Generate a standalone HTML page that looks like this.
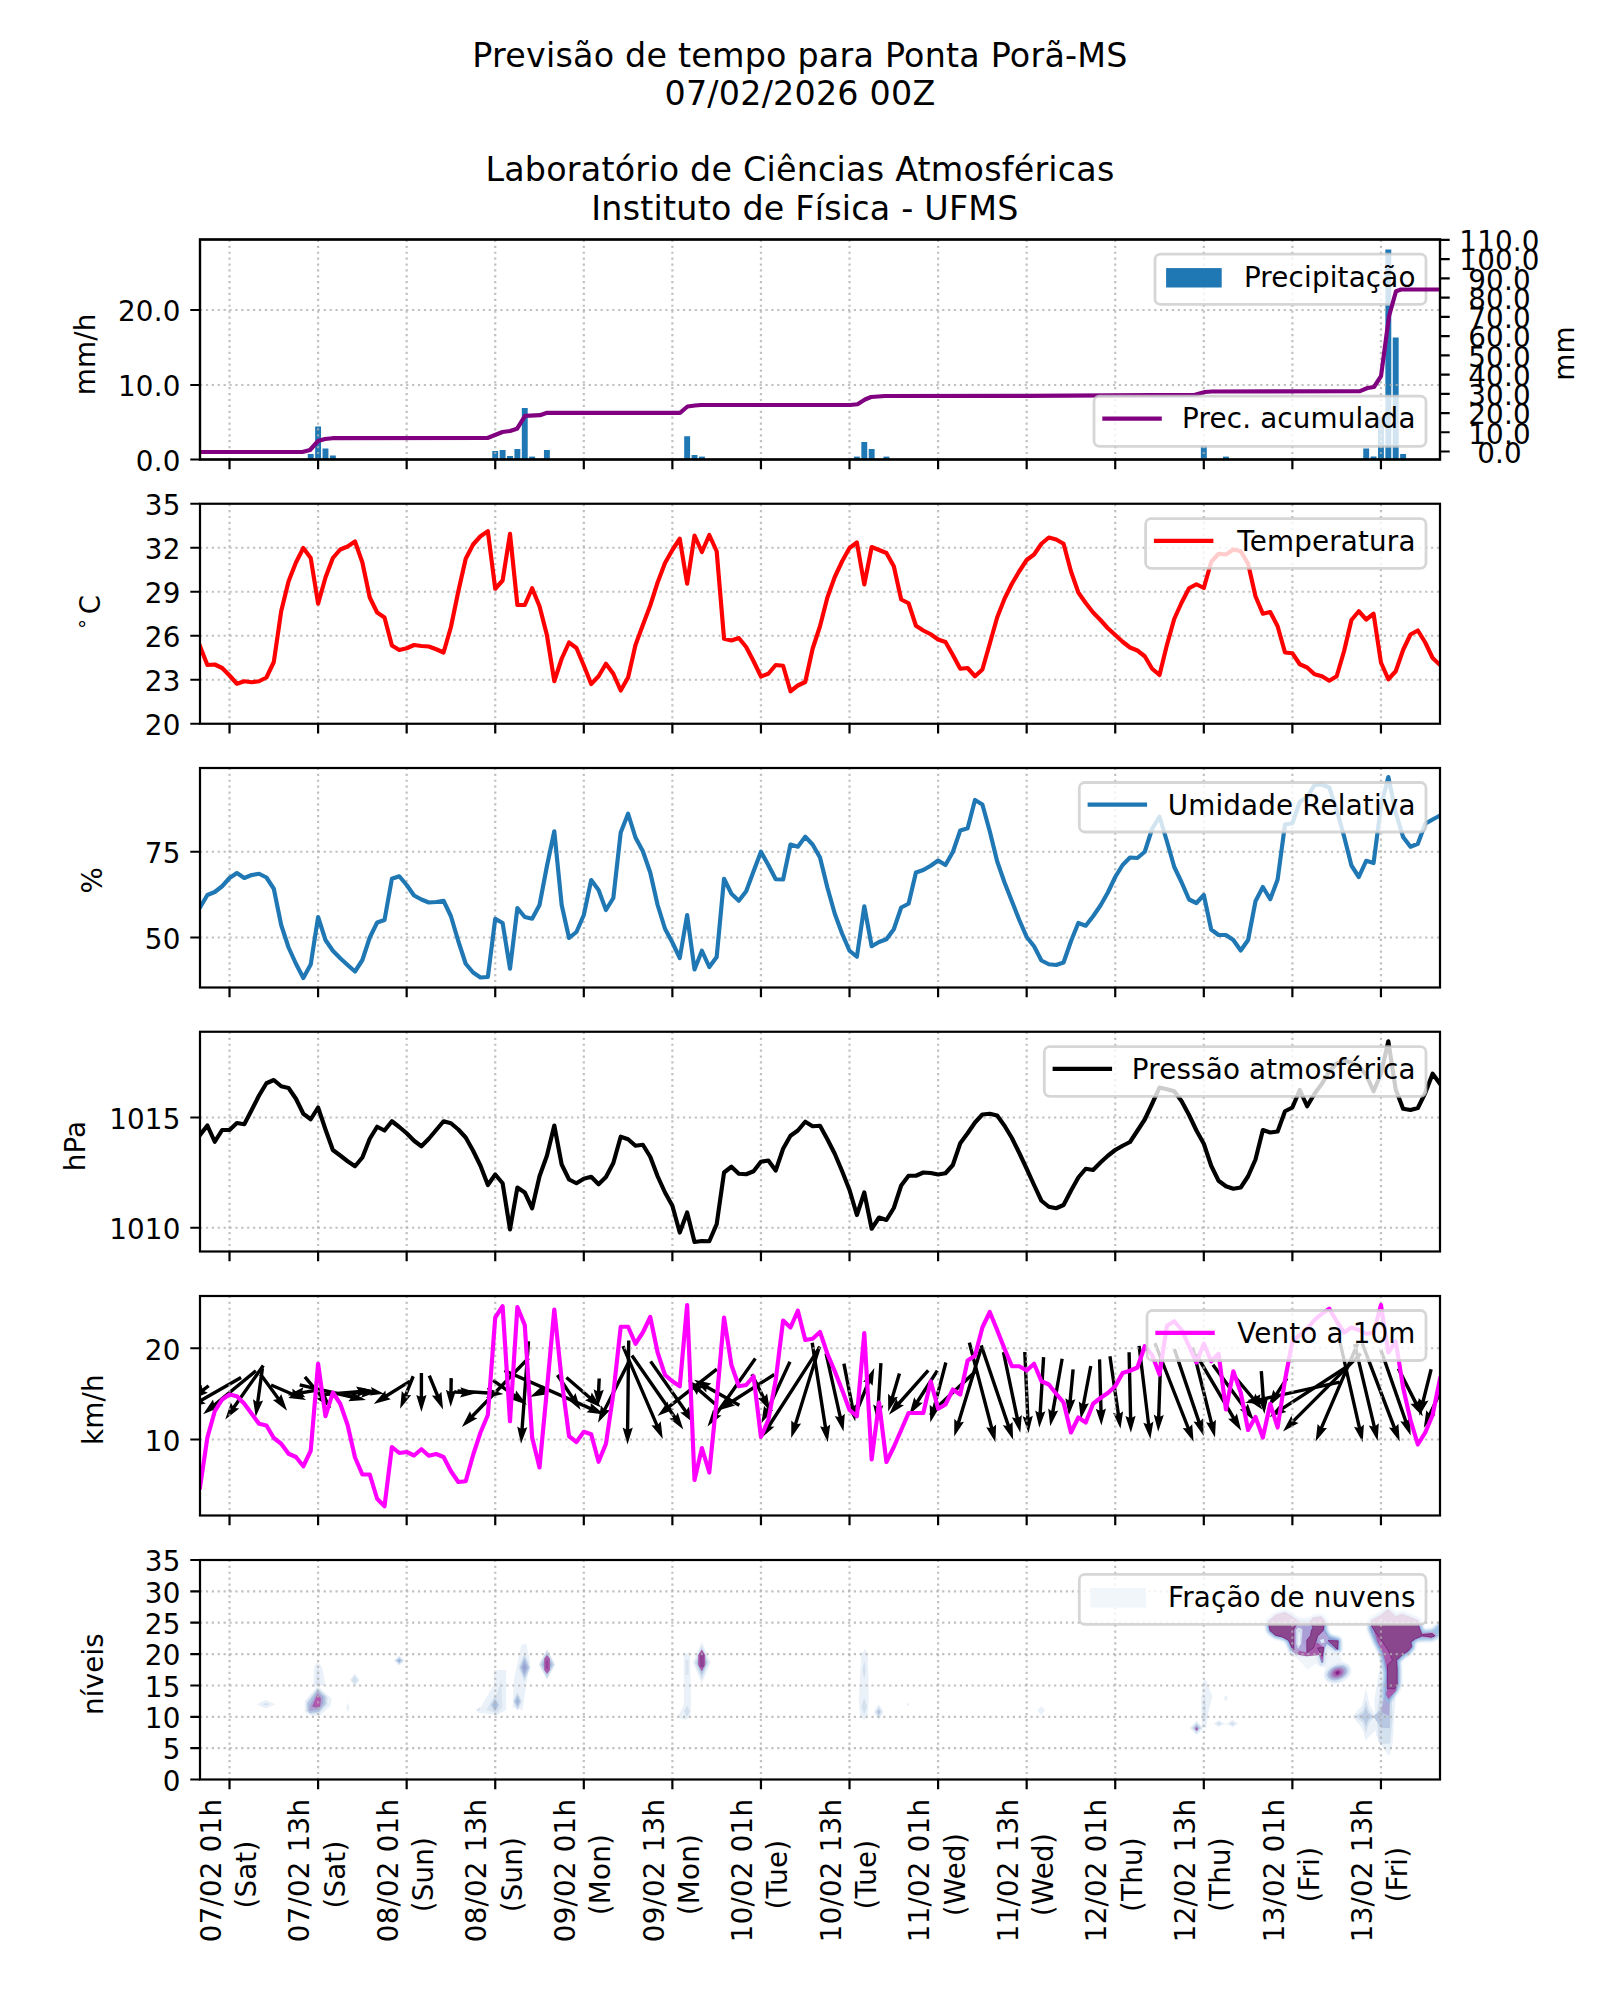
<!DOCTYPE html>
<html lang="pt"><head><meta charset="utf-8"><title>Previsão de tempo para Ponta Porã-MS</title>
<style>html,body{margin:0;padding:0;background:#fff}svg{display:block}</style></head>
<body>
<svg width="1600" height="2000" viewBox="0 0 1600 2000" font-family="'DejaVu Sans','Liberation Sans',sans-serif" font-size="27.78px" fill="#000" letter-spacing="0.17">
<defs>
<clipPath id="c0"><rect x="200.0" y="239.5" width="1240.0" height="220.0"/></clipPath>
<clipPath id="c1"><rect x="200.0" y="503.75" width="1240.0" height="220.0"/></clipPath>
<clipPath id="c2"><rect x="200.0" y="768.0" width="1240.0" height="219.5"/></clipPath>
<clipPath id="c3"><rect x="200.0" y="1031.75" width="1240.0" height="219.75"/></clipPath>
<clipPath id="c4"><rect x="200.0" y="1296.0" width="1240.0" height="219.5"/></clipPath>
<clipPath id="c5"><rect x="200.0" y="1560.0" width="1240.0" height="219.5"/></clipPath>
<filter id="b1" x="-50%" y="-50%" width="200%" height="200%"><feGaussianBlur stdDeviation="1.2"/></filter>
<filter id="b2" x="-50%" y="-50%" width="200%" height="200%"><feGaussianBlur stdDeviation="1.6"/></filter>
<filter id="b3" x="-50%" y="-50%" width="200%" height="200%"><feGaussianBlur stdDeviation="0.6"/></filter>
</defs>
<rect width="1600" height="2000" fill="#fff"/>
<text x="800" y="66.75" font-size="33.33px" text-anchor="middle" letter-spacing="0.22">Previsão de tempo para Ponta Porã-MS</text>
<text x="800" y="104.5" font-size="33.33px" text-anchor="middle" letter-spacing="0.22">07/02/2026 00Z</text>
<text x="800" y="181.25" font-size="33.33px" text-anchor="middle" letter-spacing="0.22">Laboratório de Ciências Atmosféricas</text>
<text x="805" y="219.5" font-size="33.33px" text-anchor="middle" letter-spacing="0.22">Instituto de Física - UFMS</text>
<g clip-path="url(#c0)" fill="#1f77b4">
<rect x="307.76" y="454.00" width="5.9" height="5.50"/>
<rect x="315.15" y="426.50" width="5.9" height="33.00"/>
<rect x="322.53" y="448.50" width="5.9" height="11.00"/>
<rect x="329.91" y="455.50" width="5.9" height="4.00"/>
<rect x="492.29" y="451.00" width="5.9" height="8.50"/>
<rect x="499.67" y="450.00" width="5.9" height="9.50"/>
<rect x="507.05" y="456.00" width="5.9" height="3.50"/>
<rect x="514.43" y="449.00" width="5.9" height="10.50"/>
<rect x="521.81" y="408.00" width="5.9" height="51.50"/>
<rect x="529.19" y="456.60" width="5.9" height="2.90"/>
<rect x="543.95" y="450.00" width="5.9" height="9.50"/>
<rect x="684.19" y="436.25" width="5.9" height="23.25"/>
<rect x="691.57" y="455.00" width="5.9" height="4.50"/>
<rect x="698.95" y="456.60" width="5.9" height="2.90"/>
<rect x="853.95" y="456.60" width="5.9" height="2.90"/>
<rect x="861.34" y="442.00" width="5.9" height="17.50"/>
<rect x="868.72" y="449.00" width="5.9" height="10.50"/>
<rect x="883.48" y="456.60" width="5.9" height="2.90"/>
<rect x="1200.86" y="446.00" width="5.9" height="13.50"/>
<rect x="1223.00" y="456.60" width="5.9" height="2.90"/>
<rect x="1363.24" y="448.50" width="5.9" height="11.00"/>
<rect x="1370.62" y="456.50" width="5.9" height="3.00"/>
<rect x="1378.00" y="417.00" width="5.9" height="42.50"/>
<rect x="1385.38" y="249.50" width="5.9" height="210.00"/>
<rect x="1392.76" y="337.50" width="5.9" height="122.00"/>
<rect x="1400.15" y="454.00" width="5.9" height="5.50"/>
</g>
<path d="M229.52 459.5V239.5M318.10 459.5V239.5M406.67 459.5V239.5M495.24 459.5V239.5M583.81 459.5V239.5M672.38 459.5V239.5M760.95 459.5V239.5M849.52 459.5V239.5M938.10 459.5V239.5M1026.67 459.5V239.5M1115.24 459.5V239.5M1203.81 459.5V239.5M1292.38 459.5V239.5M1380.95 459.5V239.5" stroke="#b0b0b0" stroke-opacity="0.78" stroke-width="2.2" stroke-dasharray="2.22 3.67" stroke-dashoffset="0.5" fill="none"/>
<path d="M200.0 385.0H1440.0M200.0 310.0H1440.0" stroke="#b0b0b0" stroke-opacity="0.78" stroke-width="2.2" stroke-dasharray="2.22 3.67" fill="none"/>
<rect x="200.0" y="239.5" width="1240.0" height="220.0" fill="none" stroke="#000" stroke-width="2.2"/>
<path d="M229.52 459.5v9.7M318.10 459.5v9.7M406.67 459.5v9.7M495.24 459.5v9.7M583.81 459.5v9.7M672.38 459.5v9.7M760.95 459.5v9.7M849.52 459.5v9.7M938.10 459.5v9.7M1026.67 459.5v9.7M1115.24 459.5v9.7M1203.81 459.5v9.7M1292.38 459.5v9.7M1380.95 459.5v9.7M200.0 459.5h-9.7M200.0 385.0h-9.7M200.0 310.0h-9.7M1440.0 451.5h9.7M1440.0 432.27h9.7M1440.0 413.04h9.7M1440.0 393.81h9.7M1440.0 374.58h9.7M1440.0 355.35h9.7M1440.0 336.12h9.7M1440.0 316.89h9.7M1440.0 297.65999999999997h9.7M1440.0 278.43h9.7M1440.0 259.2h9.7M1440.0 239.97h9.7" stroke="#000" stroke-width="2.2" fill="none"/>
<text x="180.5" y="470.7" text-anchor="end">0.0</text>
<text x="180.5" y="396.2" text-anchor="end">10.0</text>
<text x="180.5" y="321.2" text-anchor="end">20.0</text>
<text x="1499.5" y="462.7" text-anchor="middle">0.0</text>
<text x="1499.5" y="443.5" text-anchor="middle">10.0</text>
<text x="1499.5" y="424.2" text-anchor="middle">20.0</text>
<text x="1499.5" y="405.0" text-anchor="middle">30.0</text>
<text x="1499.5" y="385.8" text-anchor="middle">40.0</text>
<text x="1499.5" y="366.6" text-anchor="middle">50.0</text>
<text x="1499.5" y="347.3" text-anchor="middle">60.0</text>
<text x="1499.5" y="328.1" text-anchor="middle">70.0</text>
<text x="1499.5" y="308.9" text-anchor="middle">80.0</text>
<text x="1499.5" y="289.6" text-anchor="middle">90.0</text>
<text x="1499.5" y="270.4" text-anchor="middle">100.0</text>
<text x="1499.5" y="251.2" text-anchor="middle">110.0</text>
<text transform="translate(95.3 354.3) rotate(-90)" text-anchor="middle">mm/h</text>
<text transform="translate(1573.6 353.5) rotate(-90)" text-anchor="middle">mm</text>
<rect x="1155" y="254.2" width="271" height="50.19999999999999" rx="5.5" ry="5.5" fill="#fff" fill-opacity="0.8" stroke="#ccc" stroke-opacity="0.8" stroke-width="2.78"/>
<rect x="1166.1" y="268.1" width="55.6" height="19.4" fill="#1f77b4"/>
<text x="1415.6" y="286.5" text-anchor="end">Precipitação</text>
<polyline clip-path="url(#c0)" points="200.0,452.0 302.5,452.0 310.0,450.0 318.0,441.0 325.0,439.0 332.5,438.2 487.5,438.0 502.5,432.0 510.0,431.0 517.0,428.8 525.0,415.8 540.0,415.2 547.0,412.8 680.0,412.8 687.5,406.5 695.0,405.5 701.0,405.0 850.0,405.0 857.5,404.2 865.0,399.5 871.0,397.0 885.0,396.0 1027.0,395.8 1195.0,394.8 1205.0,392.0 1212.0,391.5 1360.0,391.2 1367.5,388.0 1374.0,387.0 1381.0,376.2 1389.0,316.2 1396.0,291.2 1401.0,289.5 1440.0,289.5" fill="none" stroke="#800080" stroke-width="4.17" stroke-linejoin="round"/>
<rect x="200.0" y="239.5" width="1240.0" height="220" fill="none" stroke="#000" stroke-width="2.2"/>
<rect x="1094" y="396.2" width="332" height="50.10000000000002" rx="5.5" ry="5.5" fill="#fff" fill-opacity="0.8" stroke="#ccc" stroke-opacity="0.8" stroke-width="2.78"/>
<path d="M1104.4 418.6H1159.7" stroke="#800080" stroke-width="4.17" stroke-linecap="square" fill="none"/>
<text x="1415.6" y="428.4" text-anchor="end">Prec. acumulada</text>
<path d="M229.52 723.75V503.75M318.10 723.75V503.75M406.67 723.75V503.75M495.24 723.75V503.75M583.81 723.75V503.75M672.38 723.75V503.75M760.95 723.75V503.75M849.52 723.75V503.75M938.10 723.75V503.75M1026.67 723.75V503.75M1115.24 723.75V503.75M1203.81 723.75V503.75M1292.38 723.75V503.75M1380.95 723.75V503.75" stroke="#b0b0b0" stroke-opacity="0.78" stroke-width="2.2" stroke-dasharray="2.22 3.67" stroke-dashoffset="0.5" fill="none"/>
<path d="M200.0 679.75H1440.0M200.0 635.75H1440.0M200.0 591.75H1440.0M200.0 547.75H1440.0" stroke="#b0b0b0" stroke-opacity="0.78" stroke-width="2.2" stroke-dasharray="2.22 3.67" fill="none"/>
<polyline clip-path="url(#c1)" points="200.00,646.25 207.38,665.00 214.76,664.50 222.14,668.00 229.52,675.50 236.90,683.75 244.29,681.25 251.67,682.25 259.05,681.25 266.43,677.50 273.81,662.00 281.19,611.25 288.57,581.25 295.95,562.50 303.33,548.00 310.71,558.00 318.10,603.75 325.48,577.50 332.86,558.00 340.24,549.50 347.62,546.50 355.00,541.50 362.38,562.50 369.76,597.50 377.14,612.50 384.52,617.50 391.90,645.50 399.29,650.00 406.67,648.25 414.05,645.00 421.43,646.00 428.81,646.50 436.19,649.25 443.57,652.50 450.95,627.00 458.33,591.25 465.71,558.75 473.10,544.50 480.48,536.25 487.86,531.25 495.24,588.75 502.62,580.50 510.00,533.75 517.38,605.00 524.76,605.00 532.14,588.25 539.52,606.25 546.90,635.00 554.29,681.25 561.67,658.75 569.05,642.50 576.43,648.00 583.81,665.50 591.19,684.00 598.57,676.25 605.95,663.75 613.33,673.75 620.71,690.50 628.10,677.50 635.48,645.00 642.86,625.00 650.24,605.50 657.62,582.50 665.00,563.00 672.38,550.00 679.76,538.75 687.14,583.75 694.52,535.50 701.90,552.00 709.29,535.00 716.67,551.25 724.05,638.75 731.43,640.50 738.81,638.00 746.19,647.00 753.57,661.25 760.95,676.50 768.33,673.75 775.71,665.00 783.10,665.75 790.48,691.25 797.86,685.50 805.24,682.00 812.62,648.75 820.00,626.25 827.38,597.50 834.76,577.00 842.14,561.25 849.52,548.00 856.90,542.50 864.29,584.50 871.67,547.00 879.05,550.00 886.43,553.00 893.81,566.25 901.19,599.50 908.57,603.25 915.95,625.75 923.33,630.50 930.71,634.25 938.10,639.50 945.48,642.00 952.86,655.00 960.24,668.75 967.62,668.00 975.00,676.25 982.38,669.50 989.76,643.75 997.14,617.50 1004.52,598.75 1011.90,583.75 1019.29,571.25 1026.67,560.00 1034.05,554.50 1041.43,543.75 1048.81,537.50 1056.19,539.50 1063.57,543.75 1070.95,571.25 1078.33,592.50 1085.71,603.00 1093.10,612.50 1100.48,620.00 1107.86,628.25 1115.24,635.00 1122.62,641.75 1130.00,647.50 1137.38,650.50 1144.76,656.25 1152.14,668.75 1159.52,675.00 1166.90,645.00 1174.29,618.75 1181.67,602.50 1189.05,588.25 1196.43,584.25 1203.81,588.00 1211.19,562.00 1218.57,553.75 1225.95,554.50 1233.33,549.50 1240.71,551.25 1248.10,563.75 1255.48,596.25 1262.86,613.75 1270.24,612.00 1277.62,626.25 1285.00,652.50 1292.38,653.25 1299.76,664.25 1307.14,667.50 1314.52,674.25 1321.90,676.25 1329.29,680.75 1336.67,676.25 1344.05,651.25 1351.43,620.00 1358.81,611.25 1366.19,619.50 1373.57,613.75 1380.95,662.50 1388.33,679.25 1395.71,671.25 1403.10,650.00 1410.48,634.50 1417.86,630.50 1425.24,642.50 1432.62,658.00 1440.00,665.00" fill="none" stroke="#ff0000" stroke-width="4.17" stroke-linejoin="round" stroke-linecap="square"/>
<rect x="200.0" y="503.75" width="1240.0" height="220.0" fill="none" stroke="#000" stroke-width="2.2"/>
<path d="M229.52 723.75v9.7M318.10 723.75v9.7M406.67 723.75v9.7M495.24 723.75v9.7M583.81 723.75v9.7M672.38 723.75v9.7M760.95 723.75v9.7M849.52 723.75v9.7M938.10 723.75v9.7M1026.67 723.75v9.7M1115.24 723.75v9.7M1203.81 723.75v9.7M1292.38 723.75v9.7M1380.95 723.75v9.7M200.0 723.75h-9.7M200.0 679.75h-9.7M200.0 635.75h-9.7M200.0 591.75h-9.7M200.0 547.75h-9.7M200.0 503.75h-9.7" stroke="#000" stroke-width="2.2" fill="none"/>
<text x="180.5" y="735.0" text-anchor="end">20</text>
<text x="180.5" y="691.0" text-anchor="end">23</text>
<text x="180.5" y="647.0" text-anchor="end">26</text>
<text x="180.5" y="603.0" text-anchor="end">29</text>
<text x="180.5" y="559.0" text-anchor="end">32</text>
<text x="180.5" y="515.0" text-anchor="end">35</text>
<text transform="translate(99.9 614.2) rotate(-90)">C</text>
<text transform="translate(94.3 628.7) rotate(-90)" font-size="19.4px">°</text>
<rect x="1145.6" y="518.7" width="280.4000000000001" height="49.59999999999991" rx="5.5" ry="5.5" fill="#fff" fill-opacity="0.8" stroke="#ccc" stroke-opacity="0.8" stroke-width="2.78"/>
<path d="M1156.0 540.9H1211.3" stroke="#ff0000" stroke-width="4.17" stroke-linecap="square" fill="none"/>
<text x="1415.6" y="550.7" text-anchor="end">Temperatura</text>
<path d="M229.52 987.5V768.0M318.10 987.5V768.0M406.67 987.5V768.0M495.24 987.5V768.0M583.81 987.5V768.0M672.38 987.5V768.0M760.95 987.5V768.0M849.52 987.5V768.0M938.10 987.5V768.0M1026.67 987.5V768.0M1115.24 987.5V768.0M1203.81 987.5V768.0M1292.38 987.5V768.0M1380.95 987.5V768.0" stroke="#b0b0b0" stroke-opacity="0.78" stroke-width="2.2" stroke-dasharray="2.22 3.67" stroke-dashoffset="0.5" fill="none"/>
<path d="M200.0 937.5H1440.0M200.0 851.75H1440.0" stroke="#b0b0b0" stroke-opacity="0.78" stroke-width="2.2" stroke-dasharray="2.22 3.67" fill="none"/>
<polyline clip-path="url(#c2)" points="200.00,907.50 207.38,895.00 214.76,892.00 222.14,886.25 229.52,878.00 236.90,873.00 244.29,878.00 251.67,875.00 259.05,873.75 266.43,877.50 273.81,888.75 281.19,925.00 288.57,947.50 295.95,963.75 303.33,978.00 310.71,964.50 318.10,917.00 325.48,940.00 332.86,950.75 340.24,958.25 347.62,965.00 355.00,971.50 362.38,960.00 369.76,937.50 377.14,922.50 384.52,920.00 391.90,878.75 399.29,876.25 406.67,885.00 414.05,895.50 421.43,899.50 428.81,902.50 436.19,902.00 443.57,900.75 450.95,916.25 458.33,941.25 465.71,963.75 473.10,972.50 480.48,977.50 487.86,977.00 495.24,918.75 502.62,923.00 510.00,968.75 517.38,908.00 524.76,917.00 532.14,918.75 539.52,905.00 546.90,866.25 554.29,831.25 561.67,905.00 569.05,938.00 576.43,932.00 583.81,915.00 591.19,880.00 598.57,890.00 605.95,910.00 613.33,898.00 620.71,832.50 628.10,813.75 635.48,837.50 642.86,851.25 650.24,872.50 657.62,905.00 665.00,928.75 672.38,942.50 679.76,958.00 687.14,915.00 694.52,969.50 701.90,950.75 709.29,967.00 716.67,957.00 724.05,878.75 731.43,893.75 738.81,900.75 746.19,891.25 753.57,871.25 760.95,851.75 768.33,865.00 775.71,879.25 783.10,879.50 790.48,844.50 797.86,846.75 805.24,836.75 812.62,844.50 820.00,857.50 827.38,887.50 834.76,913.75 842.14,933.75 849.52,950.75 856.90,956.75 864.29,906.25 871.67,946.25 879.05,942.00 886.43,939.25 893.81,929.25 901.19,907.50 908.57,903.75 915.95,872.50 923.33,870.00 930.71,865.75 938.10,860.50 945.48,865.00 952.86,852.00 960.24,830.50 967.62,828.25 975.00,800.00 982.38,804.50 989.76,831.25 997.14,861.25 1004.52,882.50 1011.90,901.25 1019.29,920.00 1026.67,937.00 1034.05,946.25 1041.43,960.50 1048.81,964.25 1056.19,965.00 1063.57,962.50 1070.95,941.25 1078.33,923.00 1085.71,925.75 1093.10,916.25 1100.48,905.50 1107.86,892.50 1115.24,877.00 1122.62,865.00 1130.00,857.50 1137.38,858.00 1144.76,851.75 1152.14,828.75 1159.52,816.75 1166.90,841.25 1174.29,867.00 1181.67,882.50 1189.05,899.50 1196.43,903.00 1203.81,895.00 1211.19,929.50 1218.57,935.00 1225.95,935.00 1233.33,940.00 1240.71,950.50 1248.10,940.00 1255.48,901.25 1262.86,887.00 1270.24,899.25 1277.62,879.50 1285.00,824.50 1292.38,823.25 1299.76,802.00 1307.14,797.00 1314.52,785.00 1321.90,784.50 1329.29,787.50 1336.67,810.00 1344.05,836.25 1351.43,865.50 1358.81,877.00 1366.19,860.75 1373.57,863.00 1380.95,806.25 1388.33,777.00 1395.71,812.50 1403.10,837.00 1410.48,846.75 1417.86,843.75 1425.24,823.75 1432.62,819.50 1440.00,815.50" fill="none" stroke="#1f77b4" stroke-width="4.17" stroke-linejoin="round" stroke-linecap="square"/>
<rect x="200.0" y="768.0" width="1240.0" height="219.5" fill="none" stroke="#000" stroke-width="2.2"/>
<path d="M229.52 987.5v9.7M318.10 987.5v9.7M406.67 987.5v9.7M495.24 987.5v9.7M583.81 987.5v9.7M672.38 987.5v9.7M760.95 987.5v9.7M849.52 987.5v9.7M938.10 987.5v9.7M1026.67 987.5v9.7M1115.24 987.5v9.7M1203.81 987.5v9.7M1292.38 987.5v9.7M1380.95 987.5v9.7M200.0 937.5h-9.7M200.0 851.75h-9.7" stroke="#000" stroke-width="2.2" fill="none"/>
<text x="180.5" y="948.7" text-anchor="end">50</text>
<text x="180.5" y="863.0" text-anchor="end">75</text>
<text transform="translate(101.9 880.2) rotate(-90)" text-anchor="middle">%</text>
<rect x="1079.3" y="782.5" width="346.70000000000005" height="49.5" rx="5.5" ry="5.5" fill="#fff" fill-opacity="0.8" stroke="#ccc" stroke-opacity="0.8" stroke-width="2.78"/>
<path d="M1089.7 804.6H1145.0" stroke="#1f77b4" stroke-width="4.17" stroke-linecap="square" fill="none"/>
<text x="1415.6" y="814.5" text-anchor="end">Umidade Relativa</text>
<path d="M229.52 1251.5V1031.75M318.10 1251.5V1031.75M406.67 1251.5V1031.75M495.24 1251.5V1031.75M583.81 1251.5V1031.75M672.38 1251.5V1031.75M760.95 1251.5V1031.75M849.52 1251.5V1031.75M938.10 1251.5V1031.75M1026.67 1251.5V1031.75M1115.24 1251.5V1031.75M1203.81 1251.5V1031.75M1292.38 1251.5V1031.75M1380.95 1251.5V1031.75" stroke="#b0b0b0" stroke-opacity="0.78" stroke-width="2.2" stroke-dasharray="2.22 3.67" stroke-dashoffset="0.5" fill="none"/>
<path d="M200.0 1227.75H1440.0M200.0 1117.5H1440.0" stroke="#b0b0b0" stroke-opacity="0.78" stroke-width="2.2" stroke-dasharray="2.22 3.67" fill="none"/>
<polyline clip-path="url(#c3)" points="200.00,1135.00 207.38,1125.50 214.76,1141.75 222.14,1130.00 229.52,1130.00 236.90,1123.00 244.29,1124.25 251.67,1110.00 259.05,1095.50 266.43,1083.25 273.81,1080.00 281.19,1086.25 288.57,1088.00 295.95,1098.75 303.33,1113.75 310.71,1119.25 318.10,1107.50 325.48,1129.50 332.86,1150.00 340.24,1155.50 347.62,1161.25 355.00,1166.25 362.38,1157.50 369.76,1138.75 377.14,1126.75 384.52,1130.50 391.90,1121.25 399.29,1127.00 406.67,1133.25 414.05,1140.75 421.43,1146.25 428.81,1138.75 436.19,1130.00 443.57,1121.25 450.95,1123.25 458.33,1129.50 465.71,1137.50 473.10,1150.75 480.48,1165.75 487.86,1185.00 495.24,1174.50 502.62,1183.25 510.00,1229.50 517.38,1187.50 524.76,1192.50 532.14,1208.25 539.52,1176.25 546.90,1155.75 554.29,1125.50 561.67,1164.50 569.05,1179.50 576.43,1183.25 583.81,1178.75 591.19,1176.75 598.57,1184.25 605.95,1177.00 613.33,1163.00 620.71,1136.75 628.10,1139.25 635.48,1145.75 642.86,1144.75 650.24,1156.75 657.62,1176.25 665.00,1192.50 672.38,1205.75 679.76,1232.50 687.14,1212.50 694.52,1242.00 701.90,1241.00 709.29,1241.25 716.67,1224.25 724.05,1172.50 731.43,1166.75 738.81,1173.75 746.19,1174.25 753.57,1171.25 760.95,1161.75 768.33,1160.50 775.71,1170.50 783.10,1148.75 790.48,1135.75 797.86,1130.50 805.24,1121.75 812.62,1126.25 820.00,1125.75 827.38,1139.25 834.76,1153.75 842.14,1171.25 849.52,1190.00 856.90,1215.00 864.29,1192.50 871.67,1228.75 879.05,1217.50 886.43,1220.00 893.81,1208.00 901.19,1185.50 908.57,1175.75 915.95,1175.75 923.33,1172.50 930.71,1173.00 938.10,1174.50 945.48,1173.25 952.86,1165.00 960.24,1143.25 967.62,1133.25 975.00,1122.50 982.38,1114.50 989.76,1113.75 997.14,1115.50 1004.52,1125.75 1011.90,1138.00 1019.29,1153.00 1026.67,1168.75 1034.05,1185.00 1041.43,1200.75 1048.81,1206.75 1056.19,1208.25 1063.57,1205.00 1070.95,1190.75 1078.33,1177.50 1085.71,1168.75 1093.10,1170.00 1100.48,1162.50 1107.86,1155.75 1115.24,1150.00 1122.62,1145.75 1130.00,1142.00 1137.38,1130.75 1144.76,1119.50 1152.14,1103.75 1159.52,1087.50 1166.90,1089.25 1174.29,1091.25 1181.67,1101.25 1189.05,1115.00 1196.43,1130.50 1203.81,1143.75 1211.19,1165.75 1218.57,1180.75 1225.95,1186.25 1233.33,1188.75 1240.71,1187.50 1248.10,1176.25 1255.48,1159.50 1262.86,1130.00 1270.24,1132.50 1277.62,1131.50 1285.00,1111.25 1292.38,1107.50 1299.76,1090.00 1307.14,1106.25 1314.52,1093.75 1321.90,1083.75 1329.29,1071.25 1336.67,1063.75 1344.05,1060.75 1351.43,1062.50 1358.81,1066.25 1366.19,1075.00 1373.57,1091.25 1380.95,1073.75 1388.33,1041.25 1395.71,1089.50 1403.10,1108.75 1410.48,1110.00 1417.86,1108.00 1425.24,1093.00 1432.62,1073.75 1440.00,1083.75" fill="none" stroke="#000000" stroke-width="4.17" stroke-linejoin="round" stroke-linecap="square"/>
<rect x="200.0" y="1031.75" width="1240.0" height="219.75" fill="none" stroke="#000" stroke-width="2.2"/>
<path d="M229.52 1251.5v9.7M318.10 1251.5v9.7M406.67 1251.5v9.7M495.24 1251.5v9.7M583.81 1251.5v9.7M672.38 1251.5v9.7M760.95 1251.5v9.7M849.52 1251.5v9.7M938.10 1251.5v9.7M1026.67 1251.5v9.7M1115.24 1251.5v9.7M1203.81 1251.5v9.7M1292.38 1251.5v9.7M1380.95 1251.5v9.7M200.0 1227.75h-9.7M200.0 1117.5h-9.7" stroke="#000" stroke-width="2.2" fill="none"/>
<text x="180.5" y="1239.0" text-anchor="end">1010</text>
<text x="180.5" y="1128.7" text-anchor="end">1015</text>
<text transform="translate(85.2 1146.0) rotate(-90)" text-anchor="middle">hPa</text>
<rect x="1044.3" y="1046.7" width="381.70000000000005" height="49.59999999999991" rx="5.5" ry="5.5" fill="#fff" fill-opacity="0.8" stroke="#ccc" stroke-opacity="0.8" stroke-width="2.78"/>
<path d="M1054.7 1068.9H1110.0" stroke="#000000" stroke-width="4.17" stroke-linecap="square" fill="none"/>
<text x="1415.6" y="1078.7" text-anchor="end">Pressão atmosférica</text>
<g clip-path="url(#c4)" fill="#000">
<polygon points="207.6,1384.4 202.3,1388.5 201.6,1384.8 191.3,1399.3 207.9,1392.8 204.4,1391.2 209.7,1387.1"/>
<polygon points="240.2,1376.0 200.9,1398.4 200.7,1394.6 188.5,1407.5 205.8,1403.5 202.6,1401.4 241.9,1379.0"/>
<polygon points="254.8,1369.4 213.9,1403.2 213.0,1399.5 203.1,1414.3 219.5,1407.4 216.0,1405.8 257.0,1372.1"/>
<polygon points="261.9,1364.6 232.7,1406.0 230.9,1402.6 225.3,1419.5 239.2,1408.5 235.5,1407.9 264.7,1366.5"/>
<polygon points="260.7,1368.0 256.1,1401.4 253.0,1399.2 255.7,1416.8 263.1,1400.6 259.5,1401.8 264.1,1368.5"/>
<polygon points="259.1,1375.3 276.7,1399.3 272.9,1400.0 287.1,1410.7 281.2,1393.9 279.4,1397.3 261.9,1373.3"/>
<polygon points="270.4,1386.6 291.3,1395.5 288.4,1398.0 306.1,1399.9 292.4,1388.6 292.6,1392.4 271.7,1383.5"/>
<polygon points="318.8,1388.0 302.3,1390.9 303.4,1387.3 287.6,1395.3 305.2,1397.3 302.9,1394.3 319.4,1391.4"/>
<polygon points="303.6,1377.9 320.1,1397.6 316.4,1398.5 331.3,1408.2 324.3,1391.9 322.7,1395.4 306.2,1375.7"/>
<polygon points="299.3,1386.5 350.7,1398.4 348.3,1401.3 366.0,1400.1 350.6,1391.4 351.5,1395.1 300.1,1383.2"/>
<polygon points="321.9,1396.5 358.4,1393.3 357.0,1396.8 373.5,1390.2 356.1,1386.6 358.1,1389.9 321.6,1393.1"/>
<polygon points="347.0,1395.0 362.7,1394.2 361.1,1397.7 377.9,1391.7 360.6,1387.5 362.5,1390.8 346.8,1391.6"/>
<polygon points="370.0,1392.7 371.4,1392.9 369.5,1395.4 384.0,1393.7 371.0,1387.1 371.9,1390.1 370.5,1389.9"/>
<polygon points="409.2,1379.7 385.7,1394.3 385.4,1390.6 373.7,1403.9 390.8,1399.2 387.5,1397.2 411.0,1382.5"/>
<polygon points="411.6,1375.6 404.3,1393.9 401.8,1391.1 400.1,1408.7 411.2,1394.9 407.4,1395.2 414.8,1376.9"/>
<polygon points="419.7,1373.1 419.7,1396.6 416.3,1394.9 421.4,1411.9 426.5,1394.9 423.1,1396.6 423.1,1373.1"/>
<polygon points="427.7,1376.3 435.7,1395.8 431.9,1395.5 443.1,1409.4 441.4,1391.7 438.9,1394.5 430.9,1375.0"/>
<polygon points="449.5,1378.1 449.3,1391.5 445.9,1389.8 450.7,1406.9 456.1,1390.0 452.7,1391.6 452.9,1378.2"/>
<polygon points="454.2,1393.8 461.9,1394.1 460.0,1397.4 477.2,1392.9 460.4,1387.2 462.0,1390.7 454.3,1390.4"/>
<polygon points="457.4,1392.6 488.0,1394.7 486.1,1398.0 503.4,1394.1 486.8,1387.8 488.3,1391.3 457.7,1389.2"/>
<polygon points="527.4,1356.8 471.3,1414.8 470.0,1411.3 461.9,1427.0 477.4,1418.3 473.7,1417.2 529.8,1359.2"/>
<polygon points="492.1,1381.7 513.5,1397.1 510.1,1398.9 526.9,1404.7 516.1,1390.6 515.5,1394.3 494.1,1379.0"/>
<polygon points="526.8,1341.1 520.4,1428.4 517.2,1426.4 521.0,1443.8 527.3,1427.2 523.8,1428.6 530.2,1341.4"/>
<polygon points="548.3,1386.5 543.1,1388.9 543.2,1385.1 530.0,1397.0 547.6,1394.3 544.6,1392.0 549.7,1389.5"/>
<polygon points="503.7,1372.1 589.5,1409.9 586.5,1412.3 604.2,1414.5 590.7,1403.0 590.8,1406.8 505.1,1369.0"/>
<polygon points="556.0,1375.9 570.8,1398.2 567.0,1398.7 580.6,1410.0 575.5,1393.0 573.6,1396.3 558.9,1374.1"/>
<polygon points="565.3,1378.8 588.5,1398.8 585.0,1400.3 601.2,1407.5 591.7,1392.6 590.7,1396.2 567.5,1376.2"/>
<polygon points="597.5,1378.4 596.9,1391.1 593.6,1389.3 598.0,1406.5 603.8,1389.7 600.3,1391.3 600.9,1378.6"/>
<polygon points="627.1,1361.4 603.4,1408.4 601.1,1405.4 598.0,1422.8 610.2,1410.0 606.4,1410.0 630.2,1362.9"/>
<polygon points="627.0,1340.5 625.9,1429.2 622.6,1427.4 627.5,1444.5 632.8,1427.6 629.3,1429.2 630.4,1340.5"/>
<polygon points="621.4,1346.8 655.2,1425.5 651.4,1425.3 662.8,1438.9 660.7,1421.3 658.3,1424.2 624.5,1345.4"/>
<polygon points="630.5,1356.5 673.2,1417.9 669.4,1418.4 683.3,1429.5 677.8,1412.6 676.0,1415.9 633.3,1354.6"/>
<polygon points="649.2,1362.3 684.0,1412.1 680.2,1412.6 694.2,1423.6 688.6,1406.8 686.8,1410.1 652.0,1360.4"/>
<polygon points="715.8,1367.7 668.4,1405.1 667.7,1401.4 657.5,1415.9 674.0,1409.4 670.5,1407.8 717.9,1370.4"/>
<polygon points="717.4,1403.7 700.2,1388.8 703.7,1387.3 687.6,1380.0 697.0,1395.0 698.0,1391.4 715.1,1406.2"/>
<polygon points="740.2,1403.7 708.2,1385.8 711.3,1383.6 694.0,1379.8 706.3,1392.5 706.5,1388.7 738.5,1406.7"/>
<polygon points="754.0,1357.6 714.9,1412.9 713.1,1409.6 707.5,1426.4 721.5,1415.5 717.7,1414.9 756.7,1359.6"/>
<polygon points="773.4,1373.1 730.0,1400.8 729.6,1397.0 718.1,1410.5 735.1,1405.6 731.9,1403.7 775.2,1375.9"/>
<polygon points="750.4,1374.9 761.7,1397.9 757.9,1397.9 770.0,1410.9 767.1,1393.4 764.8,1396.4 753.4,1373.4"/>
<polygon points="788.4,1361.0 766.3,1408.7 764.0,1405.7 761.4,1423.2 773.2,1410.0 769.4,1410.1 791.5,1362.5"/>
<polygon points="818.6,1345.8 767.8,1424.5 765.9,1421.3 761.0,1438.3 774.4,1426.8 770.7,1426.4 821.4,1347.6"/>
<polygon points="817.7,1346.4 794.1,1423.0 791.3,1420.4 791.2,1438.1 801.1,1423.4 797.3,1424.0 820.9,1347.4"/>
<polygon points="810.5,1343.1 823.7,1427.3 820.1,1426.2 827.8,1442.2 830.2,1424.6 827.1,1426.8 813.9,1342.5"/>
<polygon points="824.4,1353.8 838.5,1417.0 834.8,1416.1 843.5,1431.5 844.8,1413.8 841.8,1416.2 827.7,1353.1"/>
<polygon points="842.2,1363.9 850.6,1406.8 846.9,1405.7 855.2,1421.5 856.9,1403.8 853.9,1406.1 845.6,1363.2"/>
<polygon points="855.9,1417.5 870.1,1382.9 872.6,1385.8 874.3,1368.1 863.1,1381.9 866.9,1381.6 852.7,1416.2"/>
<polygon points="879.2,1363.0 876.5,1406.5 873.2,1404.6 877.2,1421.9 883.4,1405.2 879.9,1406.7 882.6,1363.2"/>
<polygon points="897.8,1373.0 890.9,1396.4 888.1,1393.8 888.2,1411.6 897.9,1396.7 894.1,1397.4 901.1,1373.9"/>
<polygon points="927.0,1369.2 897.8,1402.1 896.4,1398.6 888.9,1414.7 904.0,1405.3 900.3,1404.4 929.5,1371.5"/>
<polygon points="935.9,1369.7 916.1,1400.6 914.2,1397.3 909.3,1414.4 922.8,1402.8 919.0,1402.4 938.8,1371.5"/>
<polygon points="944.2,1362.1 932.5,1407.3 929.7,1404.8 930.3,1422.5 939.5,1407.3 935.8,1408.1 947.5,1362.9"/>
<polygon points="975.8,1368.8 938.8,1403.3 937.7,1399.7 928.7,1415.0 944.6,1407.1 941.1,1405.8 978.2,1371.2"/>
<polygon points="979.4,1348.0 957.0,1421.4 954.3,1418.7 954.2,1436.5 964.0,1421.7 960.3,1422.4 982.7,1349.0"/>
<polygon points="967.7,1343.1 989.9,1427.9 986.2,1427.2 995.4,1442.3 996.1,1424.6 993.2,1427.1 971.0,1342.3"/>
<polygon points="979.6,1345.9 1006.6,1425.7 1002.8,1425.2 1013.1,1439.7 1012.5,1421.9 1009.8,1424.6 982.8,1344.8"/>
<polygon points="1001.8,1352.5 1015.5,1418.2 1011.9,1417.2 1020.3,1432.8 1021.8,1415.1 1018.9,1417.5 1005.1,1351.8"/>
<polygon points="1023.1,1352.1 1026.1,1417.8 1022.6,1416.2 1028.5,1433.0 1032.8,1415.7 1029.5,1417.6 1026.5,1352.0"/>
<polygon points="1041.9,1357.1 1038.5,1412.5 1035.2,1410.6 1039.3,1427.8 1045.4,1411.2 1041.9,1412.7 1045.3,1357.3"/>
<polygon points="1060.5,1358.5 1051.2,1410.9 1048.2,1408.6 1050.2,1426.2 1058.2,1410.4 1054.6,1411.5 1063.8,1359.1"/>
<polygon points="1071.4,1369.2 1068.5,1400.3 1065.3,1398.2 1068.8,1415.6 1075.4,1399.2 1071.9,1400.6 1074.8,1369.5"/>
<polygon points="1089.1,1365.7 1081.9,1403.7 1078.8,1401.4 1080.7,1419.0 1088.9,1403.3 1085.2,1404.3 1092.4,1366.3"/>
<polygon points="1097.9,1359.4 1099.3,1410.4 1095.8,1408.8 1101.4,1425.6 1106.0,1408.5 1102.7,1410.3 1101.2,1359.3"/>
<polygon points="1108.3,1356.5 1116.6,1413.9 1113.0,1412.7 1120.5,1428.8 1123.1,1411.2 1120.0,1413.4 1111.6,1356.0"/>
<polygon points="1127.4,1352.2 1128.9,1417.5 1125.4,1415.9 1130.9,1432.8 1135.6,1415.7 1132.3,1417.5 1130.8,1352.2"/>
<polygon points="1137.4,1346.1 1146.9,1424.1 1143.3,1422.8 1150.4,1439.1 1153.4,1421.6 1150.2,1423.7 1140.8,1345.7"/>
<polygon points="1159.2,1353.2 1157.0,1416.4 1153.7,1414.6 1158.2,1431.7 1163.8,1414.9 1160.4,1416.5 1162.6,1353.3"/>
<polygon points="1153.4,1343.8 1186.5,1428.2 1182.7,1427.9 1193.6,1441.8 1192.2,1424.2 1189.6,1427.0 1156.5,1342.5"/>
<polygon points="1172.7,1349.6 1197.2,1422.0 1193.5,1421.5 1203.7,1435.9 1203.1,1418.2 1200.5,1420.9 1176.0,1348.5"/>
<polygon points="1190.9,1347.9 1209.7,1423.1 1206.0,1422.3 1215.0,1437.5 1215.9,1419.8 1213.0,1422.3 1194.2,1347.1"/>
<polygon points="1194.5,1355.0 1231.9,1418.5 1228.1,1418.8 1241.2,1430.8 1236.9,1413.6 1234.9,1416.8 1197.5,1353.3"/>
<polygon points="1211.5,1365.7 1243.3,1409.0 1239.6,1409.6 1253.8,1420.3 1247.8,1403.6 1246.1,1407.0 1214.3,1363.7"/>
<polygon points="1232.3,1376.4 1251.4,1399.1 1247.7,1400.0 1262.6,1409.7 1255.5,1393.4 1254.0,1396.9 1234.9,1374.2"/>
<polygon points="1259.6,1371.2 1261.6,1398.8 1258.1,1397.4 1264.4,1413.9 1268.3,1396.6 1265.0,1398.6 1263.0,1370.9"/>
<polygon points="1285.5,1377.3 1275.3,1393.0 1273.3,1389.7 1268.4,1406.8 1281.9,1395.3 1278.1,1394.9 1288.3,1379.2"/>
<polygon points="1339.4,1380.5 1259.6,1397.9 1260.5,1394.2 1245.0,1402.8 1262.7,1404.2 1260.3,1401.2 1340.1,1383.8"/>
<polygon points="1344.0,1366.6 1281.3,1407.3 1280.9,1403.5 1269.4,1417.0 1286.4,1412.0 1283.2,1410.1 1345.8,1369.4"/>
<polygon points="1359.6,1352.4 1292.6,1419.4 1291.4,1415.8 1283.0,1431.4 1298.6,1423.0 1295.0,1421.8 1362.0,1354.8"/>
<polygon points="1356.2,1342.8 1320.1,1426.8 1317.6,1423.9 1315.6,1441.5 1327.0,1427.9 1323.2,1428.1 1359.3,1344.2"/>
<polygon points="1338.5,1343.1 1357.7,1427.7 1354.0,1426.8 1362.7,1442.2 1363.9,1424.5 1361.0,1426.9 1341.8,1342.4"/>
<polygon points="1353.0,1344.4 1372.5,1426.5 1368.8,1425.6 1377.7,1440.9 1378.8,1423.2 1375.8,1425.7 1356.3,1343.7"/>
<polygon points="1360.6,1344.1 1392.6,1427.9 1388.9,1427.5 1399.7,1441.5 1398.4,1423.8 1395.8,1426.6 1363.8,1342.8"/>
<polygon points="1379.1,1349.9 1404.1,1421.7 1400.3,1421.2 1410.7,1435.6 1410.0,1417.9 1407.3,1420.6 1382.3,1348.8"/>
<polygon points="1396.8,1369.2 1414.2,1403.7 1410.4,1403.7 1422.7,1416.5 1419.5,1399.1 1417.3,1402.1 1399.8,1367.7"/>
<polygon points="1429.5,1368.8 1421.5,1400.5 1418.6,1398.0 1419.4,1415.8 1428.5,1400.5 1424.8,1401.4 1432.8,1369.7"/>
<polygon points="1454.7,1356.5 1428.6,1413.1 1426.3,1410.2 1423.8,1427.8 1435.5,1414.4 1431.7,1414.6 1457.8,1358.0"/>
</g>
<path d="M229.52 1515.5V1296.0M318.10 1515.5V1296.0M406.67 1515.5V1296.0M495.24 1515.5V1296.0M583.81 1515.5V1296.0M672.38 1515.5V1296.0M760.95 1515.5V1296.0M849.52 1515.5V1296.0M938.10 1515.5V1296.0M1026.67 1515.5V1296.0M1115.24 1515.5V1296.0M1203.81 1515.5V1296.0M1292.38 1515.5V1296.0M1380.95 1515.5V1296.0" stroke="#b0b0b0" stroke-opacity="0.78" stroke-width="2.2" stroke-dasharray="2.22 3.67" stroke-dashoffset="0.5" fill="none"/>
<path d="M200.0 1439.5H1440.0M200.0 1348.25H1440.0" stroke="#b0b0b0" stroke-opacity="0.78" stroke-width="2.2" stroke-dasharray="2.22 3.67" fill="none"/>
<polyline clip-path="url(#c4)" points="200.00,1487.50 207.38,1437.50 214.76,1411.25 222.14,1399.50 229.52,1394.50 236.90,1396.25 244.29,1403.75 251.67,1413.75 259.05,1423.75 266.43,1425.50 273.81,1438.00 281.19,1443.75 288.57,1453.75 295.95,1457.00 303.33,1466.25 310.71,1450.75 318.10,1363.75 325.48,1416.25 332.86,1392.50 340.24,1403.75 347.62,1425.00 355.00,1457.50 362.38,1474.50 369.76,1474.50 377.14,1498.75 384.52,1506.25 391.90,1447.00 399.29,1453.00 406.67,1452.00 414.05,1455.50 421.43,1449.25 428.81,1455.75 436.19,1454.00 443.57,1457.00 450.95,1471.25 458.33,1482.00 465.71,1481.25 473.10,1455.00 480.48,1432.50 487.86,1415.00 495.24,1317.50 502.62,1306.25 510.00,1421.25 517.38,1307.00 524.76,1325.00 532.14,1437.50 539.52,1467.50 546.90,1390.00 554.29,1309.50 561.67,1380.00 569.05,1436.25 576.43,1442.00 583.81,1431.75 591.19,1434.25 598.57,1461.75 605.95,1443.75 613.33,1393.75 620.71,1326.75 628.10,1326.75 635.48,1343.75 642.86,1332.50 650.24,1317.00 657.62,1352.50 665.00,1375.00 672.38,1381.25 679.76,1386.25 687.14,1305.00 694.52,1480.00 701.90,1448.00 709.29,1472.50 716.67,1400.00 724.05,1317.50 731.43,1365.00 738.81,1386.25 746.19,1385.00 753.57,1376.25 760.95,1437.00 768.33,1420.00 775.71,1380.00 783.10,1320.50 790.48,1327.50 797.86,1310.75 805.24,1340.00 812.62,1338.75 820.00,1332.00 827.38,1353.75 834.76,1371.25 842.14,1390.00 849.52,1410.00 856.90,1416.25 864.29,1333.00 871.67,1459.50 879.05,1402.50 886.43,1462.00 893.81,1447.00 901.19,1430.00 908.57,1413.00 915.95,1413.00 923.33,1413.00 930.71,1381.25 938.10,1408.75 945.48,1404.50 952.86,1389.50 960.24,1394.50 967.62,1360.50 975.00,1355.75 982.38,1327.50 989.76,1312.00 997.14,1330.00 1004.52,1348.75 1011.90,1366.25 1019.29,1366.25 1026.67,1370.50 1034.05,1363.75 1041.43,1381.25 1048.81,1384.50 1056.19,1393.75 1063.57,1402.50 1070.95,1432.50 1078.33,1417.50 1085.71,1422.50 1093.10,1403.75 1100.48,1398.00 1107.86,1393.00 1115.24,1386.25 1122.62,1373.00 1130.00,1370.75 1137.38,1367.50 1144.76,1346.25 1152.14,1355.00 1159.52,1374.50 1166.90,1325.75 1174.29,1321.25 1181.67,1330.00 1189.05,1346.25 1196.43,1362.50 1203.81,1343.75 1211.19,1361.25 1218.57,1353.75 1225.95,1409.50 1233.33,1371.25 1240.71,1392.50 1248.10,1430.00 1255.48,1417.00 1262.86,1437.50 1270.24,1403.75 1277.62,1427.50 1285.00,1380.00 1292.38,1341.25 1299.76,1335.00 1307.14,1328.75 1314.52,1320.00 1321.90,1313.75 1329.29,1308.75 1336.67,1321.25 1344.05,1332.50 1351.43,1327.50 1358.81,1330.00 1366.19,1333.75 1373.57,1333.00 1380.95,1305.00 1388.33,1352.50 1395.71,1341.25 1403.10,1387.50 1410.48,1420.00 1417.86,1444.50 1425.24,1432.50 1432.62,1415.00 1440.00,1378.75" fill="none" stroke="#ff00ff" stroke-width="4.17" stroke-linejoin="round" stroke-linecap="square"/>
<rect x="200.0" y="1296.0" width="1240.0" height="219.5" fill="none" stroke="#000" stroke-width="2.2"/>
<path d="M229.52 1515.5v9.7M318.10 1515.5v9.7M406.67 1515.5v9.7M495.24 1515.5v9.7M583.81 1515.5v9.7M672.38 1515.5v9.7M760.95 1515.5v9.7M849.52 1515.5v9.7M938.10 1515.5v9.7M1026.67 1515.5v9.7M1115.24 1515.5v9.7M1203.81 1515.5v9.7M1292.38 1515.5v9.7M1380.95 1515.5v9.7M200.0 1439.5h-9.7M200.0 1348.25h-9.7" stroke="#000" stroke-width="2.2" fill="none"/>
<text x="180.5" y="1450.7" text-anchor="end">10</text>
<text x="180.5" y="1359.5" text-anchor="end">20</text>
<text transform="translate(103.3 1409.5) rotate(-90)" text-anchor="middle">km/h</text>
<rect x="1147" y="1310.5" width="279" height="50.0" rx="5.5" ry="5.5" fill="#fff" fill-opacity="0.8" stroke="#ccc" stroke-opacity="0.8" stroke-width="2.78"/>
<path d="M1157.4 1332.9H1212.7" stroke="#ff00ff" stroke-width="4.17" stroke-linecap="square" fill="none"/>
<text x="1415.6" y="1342.7" text-anchor="end">Vento a 10m</text>
<g clip-path="url(#c5)">
<g filter="url(#b3)"><polygon points="313.1,1687.2 314.2,1665.9 317.6,1661.9 322.1,1667.0 325.5,1685.0" fill="#eaf1f8" /><polygon points="315.6,1685.0 316.5,1669.2 318.7,1668.1 320.4,1685.0" fill="#d3e0ee" opacity="0.6"/><polygon points="304.7,1712.0 304.7,1700.7 317.6,1686.1 321.6,1689.5 331.7,1698.5 330.6,1705.8 321.0,1714.8 312.0,1715.9" fill="#eaf1f8" /><polygon points="306.4,1710.9 306.4,1701.9 317.6,1687.8 327.7,1697.4 327.2,1704.7 319.3,1713.1 310.3,1714.2" fill="#d3e0ee" /><polygon points="307.5,1710.3 307.5,1703.0 317.6,1689.5 325.5,1696.8 325.5,1704.1 318.7,1712.0 309.7,1713.1" fill="#b0c3e0" /><polygon points="309.2,1710.9 309.7,1705.2 317.6,1691.7 323.2,1697.4 323.2,1703.0 318.7,1709.7" fill="#a9a3d3" /><polygon points="312.0,1706.4 317.6,1694.0 321.0,1698.5 320.1,1706.4 316.5,1707.7" fill="#a75cab" /><polygon points="315.1,1704.3 317.6,1697.1 319.4,1700.7 318.9,1705.5" fill="#c04fb5" /><polygon points="256.4,1704.3 261.6,1702.0 265.9,1700.1 270.1,1702.0 275.4,1704.3 270.1,1706.7 265.9,1708.5 261.6,1706.7" fill="#eaf1f8" /><polygon points="259.5,1704.3 263.0,1702.8 265.9,1701.5 268.7,1702.8 272.2,1704.3 268.7,1705.9 265.9,1707.1 263.0,1705.9" fill="#eaf1f8" /><polygon points="262.7,1704.3 264.4,1703.6 265.9,1702.9 267.3,1703.6 269.0,1704.3 267.3,1705.1 265.9,1705.7 264.4,1705.1" fill="#d3e0ee" /><polygon points="349.7,1679.9 352.5,1676.4 354.7,1673.4 357.0,1676.4 359.7,1679.9 357.0,1683.5 354.7,1686.4 352.5,1683.5" fill="#eaf1f8" /><polygon points="351.4,1679.9 353.2,1677.6 354.7,1675.6 356.2,1677.6 358.1,1679.9 356.2,1682.3 354.7,1684.3 353.2,1682.3" fill="#d3e0ee" /><polygon points="353.1,1679.9 354.0,1678.7 354.7,1677.8 355.5,1678.7 356.4,1679.9 355.5,1681.1 354.7,1682.1 354.0,1681.1" fill="#d3e0ee" /><polygon points="393.6,1660.6 396.7,1657.7 399.2,1655.4 401.7,1657.7 404.8,1660.6 401.7,1663.4 399.2,1665.8 396.7,1663.4" fill="#eaf1f8" /><polygon points="395.0,1660.6 397.3,1658.4 399.2,1656.7 401.1,1658.4 403.4,1660.6 401.1,1662.7 399.2,1664.5 397.3,1662.7" fill="#d3e0ee" /><polygon points="396.4,1660.6 397.9,1659.2 399.2,1658.0 400.4,1659.2 402.0,1660.6 400.4,1662.0 399.2,1663.2 397.9,1662.0" fill="#b0c3e0" /><polygon points="397.8,1660.6 398.6,1659.9 399.2,1659.3 399.8,1659.9 400.6,1660.6 399.8,1661.3 399.2,1661.9 398.6,1661.3" fill="#8fb0dc" /><polygon points="346.0,1707.5 347.0,1704.7 347.8,1702.5 348.6,1704.7 349.6,1707.5 348.6,1710.2 347.8,1712.5 347.0,1710.2" fill="#eaf1f8" /><polygon points="475.5,1710.0 478.0,1708.2 480.0,1706.8 482.0,1708.2 484.5,1710.0 482.0,1711.8 480.0,1713.2 478.0,1711.8" fill="#eaf1f8" /><polygon points="477.0,1710.0 478.6,1708.8 480.0,1707.9 481.4,1708.8 483.0,1710.0 481.4,1711.2 480.0,1712.1 478.6,1711.2" fill="#d3e0ee" /><polygon points="478.5,1710.0 479.3,1709.4 480.0,1708.9 480.7,1709.4 481.5,1710.0 480.7,1710.6 480.0,1711.1 479.3,1710.6" fill="#b0c3e0" /><polygon points="477.5,1712.5 493.8,1685.0 493.8,1670.0 506.2,1670.0 506.2,1710.0 497.5,1715.0" fill="#eaf1f8" /><polygon points="486.2,1710.0 497.5,1692.5 501.2,1680.0 502.5,1707.5 497.5,1713.0" fill="#d3e0ee" opacity="0.7"/><polygon points="489.5,1705.0 492.5,1699.8 495.0,1695.5 497.5,1699.8 500.5,1705.0 497.5,1710.2 495.0,1714.5 492.5,1710.2" fill="#d3e0ee" /><polygon points="491.3,1705.0 493.4,1701.5 495.0,1698.7 496.6,1701.5 498.7,1705.0 496.6,1708.5 495.0,1711.3 493.4,1708.5" fill="#b0c3e0" /><polygon points="493.2,1705.0 494.2,1703.3 495.0,1701.8 495.8,1703.3 496.8,1705.0 495.8,1706.7 495.0,1708.2 494.2,1706.7" fill="#a5bbdc" /><polygon points="512.5,1707.5 513.8,1680.0 521.2,1645.0 526.2,1643.8 530.0,1662.5 526.2,1685.0 522.5,1710.0" fill="#eaf1f8" /><polygon points="513.0,1701.2 515.5,1696.0 517.5,1691.8 519.5,1696.0 522.0,1701.2 519.5,1706.5 517.5,1710.8 515.5,1706.5" fill="#d3e0ee" /><polygon points="514.5,1701.2 516.1,1697.8 517.5,1694.9 518.9,1697.8 520.5,1701.2 518.9,1704.7 517.5,1707.6 516.1,1704.7" fill="#b0c3e0" /><polygon points="516.0,1701.2 516.8,1699.5 517.5,1698.1 518.2,1699.5 519.0,1701.2 518.2,1703.0 517.5,1704.4 516.8,1703.0" fill="#a0b4d8" /><polygon points="518.5,1667.5 521.8,1659.8 524.5,1653.5 527.2,1659.8 530.5,1667.5 527.2,1675.2 524.5,1681.5 521.8,1675.2" fill="#d3e0ee" /><polygon points="520.0,1667.5 522.5,1661.7 524.5,1657.0 526.5,1661.7 529.0,1667.5 526.5,1673.3 524.5,1678.0 522.5,1673.3" fill="#b0c3e0" /><polygon points="521.5,1667.5 523.1,1663.7 524.5,1660.5 525.9,1663.7 527.5,1667.5 525.9,1671.3 524.5,1674.5 523.1,1671.3" fill="#a0b0d8" /><polygon points="523.0,1667.5 523.8,1665.6 524.5,1664.0 525.2,1665.6 526.0,1667.5 525.2,1669.4 524.5,1671.0 523.8,1669.4" fill="#98a0d0" /><polygon points="539.0,1664.5 543.4,1656.2 547.0,1649.5 550.6,1656.2 555.0,1664.5 550.6,1672.8 547.0,1679.5 543.4,1672.8" fill="#d3e0ee" /><polygon points="541.0,1664.5 544.3,1658.3 547.0,1653.2 549.7,1658.3 553.0,1664.5 549.7,1670.7 547.0,1675.8 544.3,1670.7" fill="#b0c3e0" /><polygon points="543.0,1664.5 545.2,1660.4 547.0,1657.0 548.8,1660.4 551.0,1664.5 548.8,1668.6 547.0,1672.0 545.2,1668.6" fill="#8fa6d6" /><polygon points="545.0,1664.5 546.1,1662.4 547.0,1660.8 547.9,1662.4 549.0,1664.5 547.9,1666.6 547.0,1668.2 546.1,1666.6" fill="#a9a3d3" /><polygon points="544.2,1658.8 547.0,1655.0 550.0,1658.8 550.0,1670.0 547.0,1673.8 544.2,1670.0" fill="#a75cab" /><polygon points="545.8,1660.5 548.2,1660.5 548.2,1668.8 545.8,1668.8" fill="#9a3f9a" /><polygon points="677.5,1717.5 683.8,1705.0 683.8,1655.0 690.0,1652.5 691.2,1705.0 690.0,1717.5 685.0,1720.0" fill="#eaf1f8" /><polygon points="685.5,1660.0 688.5,1660.0 688.5,1675.0 685.5,1675.0" fill="#d3e0ee" opacity="0.7"/><polygon points="684.0,1711.2 685.6,1708.2 687.0,1705.8 688.4,1708.2 690.0,1711.2 688.4,1714.3 687.0,1716.8 685.6,1714.3" fill="#d3e0ee" /><polygon points="692.8,1662.5 697.7,1651.0 701.8,1641.5 705.8,1651.0 710.8,1662.5 705.8,1674.0 701.8,1683.5 697.7,1674.0" fill="#eaf1f8" /><polygon points="694.5,1662.5 698.5,1653.3 701.8,1645.7 705.0,1653.3 709.0,1662.5 705.0,1671.7 701.8,1679.3 698.5,1671.7" fill="#d3e0ee" /><polygon points="696.4,1662.5 699.3,1655.6 701.8,1649.9 704.2,1655.6 707.1,1662.5 704.2,1669.4 701.8,1675.1 699.3,1669.4" fill="#b0c3e0" /><polygon points="698.1,1662.5 700.1,1657.9 701.8,1654.1 703.4,1657.9 705.4,1662.5 703.4,1667.1 701.8,1670.9 700.1,1667.1" fill="#8fa6d6" /><polygon points="700.0,1662.5 700.9,1660.2 701.8,1658.3 702.6,1660.2 703.5,1662.5 702.6,1664.8 701.8,1666.7 700.9,1664.8" fill="#a9a3d3" /><polygon points="698.2,1655.0 701.8,1649.5 705.2,1655.0 705.2,1665.0 701.8,1671.2 698.2,1665.0" fill="#a75cab" /><polygon points="699.8,1653.0 703.8,1653.0 703.8,1667.0 699.8,1667.0" fill="#8f3f95" /><polygon points="860.0,1715.0 858.8,1700.0 861.2,1655.0 865.0,1648.8 868.0,1655.0 868.8,1700.0 867.5,1717.5 863.8,1720.0" fill="#eaf1f8" /><polygon points="861.5,1706.2 863.0,1701.8 864.2,1698.2 865.5,1701.8 867.0,1706.2 865.5,1710.7 864.2,1714.2 863.0,1710.7" fill="#d3e0ee" /><polygon points="862.6,1670.0 863.5,1665.0 864.2,1661.0 865.0,1665.0 865.9,1670.0 865.0,1675.0 864.2,1679.0 863.5,1675.0" fill="#d3e0ee" /><polygon points="873.8,1712.0 876.5,1707.6 878.8,1704.0 881.0,1707.6 883.8,1712.0 881.0,1716.4 878.8,1720.0 876.5,1716.4" fill="#eaf1f8" /><polygon points="875.4,1712.0 877.2,1709.1 878.8,1706.7 880.2,1709.1 882.1,1712.0 880.2,1714.9 878.8,1717.3 877.2,1714.9" fill="#d3e0ee" /><polygon points="877.1,1712.0 878.0,1710.5 878.8,1709.3 879.5,1710.5 880.4,1712.0 879.5,1713.5 878.8,1714.7 878.0,1713.5" fill="#b0c3e0" /><polygon points="906.6,1704.5 907.5,1703.4 908.2,1702.5 909.0,1703.4 909.9,1704.5 909.0,1705.6 908.2,1706.5 907.5,1705.6" fill="#eaf1f8" /><polygon points="1037.2,1710.5 1039.5,1708.0 1041.2,1706.0 1043.0,1708.0 1045.2,1710.5 1043.0,1713.0 1041.2,1715.0 1039.5,1713.0" fill="#eaf1f8" /><polygon points="1039.2,1710.5 1040.3,1709.3 1041.2,1708.2 1042.2,1709.3 1043.2,1710.5 1042.2,1711.7 1041.2,1712.8 1040.3,1711.7" fill="#eaf1f8" /><polygon points="1025.3,1721.2 1026.0,1719.6 1026.5,1718.2 1027.0,1719.6 1027.7,1721.2 1027.0,1722.9 1026.5,1724.2 1026.0,1722.9" fill="#eaf1f8" /></g><g filter="url(#b3)"><polygon points="1201.9,1728.0 1201.0,1700.0 1203.6,1679.0 1206.3,1680.8 1212.4,1696.5 1208.0,1714.0 1206.3,1728.0" fill="#eaf1f8" /><polygon points="1202.8,1722.8 1203.1,1700.0 1205.4,1698.3 1206.3,1717.5" fill="#d3e0ee" opacity="0.8"/><polygon points="1189.6,1728.0 1193.5,1723.9 1196.6,1720.5 1199.8,1723.9 1203.6,1728.0 1199.8,1732.1 1196.6,1735.5 1193.5,1732.1" fill="#eaf1f8" /><polygon points="1191.4,1728.0 1194.3,1724.9 1196.6,1722.4 1199.0,1724.9 1201.9,1728.0 1199.0,1731.1 1196.6,1733.6 1194.3,1731.1" fill="#d3e0ee" /><polygon points="1193.1,1728.0 1195.1,1725.9 1196.6,1724.3 1198.2,1725.9 1200.1,1728.0 1198.2,1730.1 1196.6,1731.8 1195.1,1730.1" fill="#b0c3e0" /><polygon points="1194.9,1728.0 1195.8,1727.0 1196.6,1726.1 1197.4,1727.0 1198.4,1728.0 1197.4,1729.0 1196.6,1729.9 1195.8,1729.0" fill="#a9a3d3" /><polygon points="1195.0,1728.9 1195.9,1727.9 1196.6,1727.1 1197.3,1727.9 1198.2,1728.9 1197.3,1729.9 1196.6,1730.7 1195.9,1729.9" fill="#a75cab" /><polygon points="1213.4,1723.6 1216.4,1721.7 1218.9,1720.1 1221.3,1721.7 1224.4,1723.6 1221.3,1725.6 1218.9,1727.1 1216.4,1725.6" fill="#eaf1f8" /><polygon points="1216.1,1723.6 1217.6,1722.7 1218.9,1721.9 1220.1,1722.7 1221.6,1723.6 1220.1,1724.6 1218.9,1725.4 1217.6,1724.6" fill="#d3e0ee" /><polygon points="1227.0,1723.6 1230.0,1721.5 1232.5,1719.8 1235.0,1721.5 1238.0,1723.6 1235.0,1725.7 1232.5,1727.4 1230.0,1725.7" fill="#eaf1f8" /><polygon points="1229.8,1723.6 1231.3,1722.6 1232.5,1721.7 1233.7,1722.6 1235.3,1723.6 1233.7,1724.7 1232.5,1725.5 1231.3,1724.7" fill="#d3e0ee" /><polygon points="1221.1,1723.6 1229.9,1723.6 1229.9,1724.5 1221.1,1724.5" fill="#eaf1f8" /><polygon points="1223.7,1698.3 1224.9,1696.4 1225.9,1694.9 1226.8,1696.4 1228.1,1698.3 1226.8,1700.1 1225.9,1701.7 1224.9,1700.1" fill="#eaf1f8" /><polygon points="1376.0,1735.0 1374.3,1700.0 1381.3,1658.0 1390.0,1658.0 1395.3,1700.0 1392.6,1743.8 1389.1,1756.0 1381.3,1745.5" fill="#eaf1f8" /><polygon points="1352.4,1716.6 1362.0,1705.3 1365.9,1688.6 1369.9,1705.3 1375.1,1714.0 1377.8,1728.0 1369.0,1736.8 1365.9,1740.3 1362.0,1728.0" fill="#eaf1f8" /><polygon points="1355.0,1716.6 1362.9,1710.5 1365.9,1700.0 1369.0,1710.5 1374.3,1716.6 1369.0,1722.8 1365.9,1733.3 1362.9,1722.8" fill="#d3e0ee" /><polygon points="1358.5,1716.6 1363.8,1713.1 1365.9,1707.0 1368.1,1713.1 1372.5,1716.6 1368.1,1720.1 1365.9,1726.3 1363.8,1720.1" fill="#bccbe4" /><polygon points="1378.6,1742.0 1376.9,1714.0 1381.3,1682.5 1390.9,1682.5 1392.6,1717.5 1390.0,1743.8 1381.3,1743.8" fill="#d3e0ee" /><polygon points="1373.4,1716.6 1381.3,1708.8 1383.0,1696.5 1390.0,1700.0 1390.0,1728.0 1381.3,1728.0" fill="#b8c8e2" /><polygon points="1381.3,1712.3 1384.8,1693.0 1390.0,1698.3 1389.1,1715.8" fill="#a9a3d3" opacity="0.85"/></g><g filter="url(#b2)"><polygon points="1267.5,1621.2 1275.6,1614.7 1285.0,1611.9 1291.2,1615.0 1298.8,1620.6 1310.0,1620.6 1313.1,1617.5 1321.2,1616.2 1325.3,1621.2 1324.7,1630.0 1328.8,1636.9 1338.8,1640.0 1338.8,1650.0 1335.6,1650.6 1326.9,1643.8 1324.7,1648.1 1323.1,1663.1 1321.2,1663.1 1317.5,1650.0 1307.5,1654.4 1292.5,1651.9 1287.5,1640.0 1281.9,1637.5 1275.0,1635.9 1269.1,1630.9" fill="#9fc2e6" stroke="#8fb8e2" stroke-width="4" stroke-linejoin="round"/><polygon points="1370.5,1620.0 1380.6,1614.5 1388.1,1608.3 1395.7,1616.0 1401.9,1613.2 1409.0,1616.0 1418.8,1620.0 1420.3,1627.5 1422.6,1633.0 1432.1,1632.4 1436.4,1635.8 1431.6,1638.4 1422.5,1637.1 1416.2,1639.6 1412.1,1642.4 1412.8,1647.0 1409.0,1651.9 1402.7,1656.0 1397.7,1661.0 1398.4,1668.8 1398.4,1685.0 1396.0,1690.5 1388.5,1700.5 1385.0,1695.0 1386.0,1673.0 1384.0,1662.0 1381.2,1652.2 1375.8,1642.0 1370.3,1629.0" fill="#9fc2e6" stroke="#8fb8e2" stroke-width="4" stroke-linejoin="round"/><polygon points="1420.0,1632.0 1433.0,1630.5 1440.0,1624.0 1440.0,1631.0 1437.0,1637.0 1432.0,1639.5 1424.0,1639.5 1416.0,1640.0" fill="#9fc2e6" stroke="#9fc2e6" stroke-width="2.5" stroke-linejoin="round"/><ellipse cx="1337.5" cy="1672.8" rx="12.5" ry="8.5" fill="#a9c8ea" transform="rotate(-22 1337.5 1672.8)"/></g><g filter="url(#b3)"><polygon points="1288.8,1653.1 1298.8,1660.0 1307.5,1669.4 1317.5,1663.1 1322.2,1665.0 1325.0,1668.8 1333.1,1681.2 1345.6,1680.6 1342.5,1662.5 1338.8,1650.0 1326.9,1643.8 1292.5,1650.0" fill="#eaf1f8" opacity="0.7"/><polygon points="1267.5,1621.2 1275.6,1614.7 1285.0,1611.9 1291.2,1615.0 1298.8,1620.6 1310.0,1620.6 1313.1,1617.5 1321.2,1616.2 1325.3,1621.2 1324.7,1630.0 1328.8,1636.9 1338.8,1640.0 1338.8,1650.0 1335.6,1650.6 1326.9,1643.8 1324.7,1648.1 1323.1,1663.1 1321.2,1663.1 1317.5,1650.0 1307.5,1654.4 1292.5,1651.9 1287.5,1640.0 1281.9,1637.5 1275.0,1635.9 1269.1,1630.9" fill="#8f9fd5" /><polygon points="1293.8,1622.5 1311.2,1621.9 1311.2,1631.2 1306.9,1640.0 1306.9,1653.8 1293.8,1650.0" fill="#b0a6da" /><polygon points="1296.2,1629.4 1298.8,1627.5 1302.5,1629.4 1301.2,1643.8 1298.1,1648.8 1296.2,1643.8" fill="#d3e0ee" /><polygon points="1298.1,1632.5 1300.0,1632.5 1300.0,1645.0 1298.1,1645.0" fill="#eaf2fa" /><polygon points="1302.5,1626.2 1311.2,1626.2 1310.6,1635.6 1306.9,1640.0 1305.0,1647.5 1303.1,1643.8" fill="#a99fd6" /><polygon points="1293.8,1649.4 1306.9,1652.5 1313.1,1648.1 1315.0,1643.1 1317.5,1648.8 1319.4,1655.0 1306.9,1656.2 1298.8,1655.0" fill="#a75cab" /><polygon points="1292.7,1651.6 1294.5,1649.8 1295.9,1648.4 1297.4,1649.8 1299.1,1651.6 1297.4,1653.3 1295.9,1654.8 1294.5,1653.3" fill="#b79fd2" /><polygon points="1317.5,1636.2 1323.1,1630.6 1328.8,1637.5 1328.1,1640.6 1323.8,1647.5 1318.1,1643.1" fill="#b0a6da" /><polygon points="1320.0,1640.0 1323.8,1638.8 1324.4,1642.5 1321.2,1643.1" fill="#dcebf8" /><polygon points="1315.0,1643.1 1318.1,1643.1 1323.8,1647.5 1322.5,1662.5 1320.0,1656.2 1317.5,1648.8" fill="#a75cab" /><polygon points="1268.4,1621.9 1275.6,1615.3 1285.0,1612.5 1290.0,1615.6 1298.8,1621.9 1295.6,1626.2 1293.8,1629.4 1293.8,1650.0 1291.9,1647.5 1288.8,1640.6 1282.5,1636.9 1275.6,1635.3 1270.0,1630.6" fill="#8b478d" stroke="#7b1f7d" stroke-width="0.9"/><polygon points="1310.0,1621.9 1313.1,1618.1 1321.2,1616.9 1324.4,1621.2 1323.8,1626.2 1323.1,1630.6 1317.5,1636.2 1315.6,1642.5 1313.1,1648.1 1306.9,1652.5 1306.9,1640.0 1310.6,1635.6 1311.2,1631.2 1313.1,1627.5" fill="#8b478d" stroke="#7b1f7d" stroke-width="0.9"/><polygon points="1317.5,1648.1 1323.8,1647.5 1322.2,1656.2" fill="#8b478d" stroke="#7b1f7d" stroke-width="0.9"/><polygon points="1328.1,1640.6 1338.1,1640.9 1337.5,1649.4" fill="#8b478d" stroke="#7b1f7d" stroke-width="0.9"/><ellipse cx="1337.5" cy="1672.8" rx="12.5" ry="8.2" fill="#dbe7f4" transform="rotate(-22 1337.5 1672.8)"/><ellipse cx="1337.5" cy="1672.8" rx="10.8" ry="7.0" fill="#b0c3e0" transform="rotate(-22 1337.5 1672.8)"/><ellipse cx="1337.5" cy="1672.8" rx="8.6" ry="5.6" fill="#a9a3d3" transform="rotate(-22 1337.5 1672.8)"/><ellipse cx="1337.5" cy="1672.8" rx="6.6" ry="4.4" fill="#a781c0" transform="rotate(-22 1337.5 1672.8)"/><ellipse cx="1337.5" cy="1672.8" rx="4.6" ry="3.2" fill="#a75cab" transform="rotate(-22 1337.5 1672.8)"/><ellipse cx="1337.5" cy="1672.8" rx="2.2" ry="1.8" fill="#85248a" transform="rotate(-22 1337.5 1672.8)"/><polygon points="1370.5,1620.0 1380.6,1614.5 1388.1,1608.3 1395.7,1616.0 1401.9,1613.2 1409.0,1616.0 1418.8,1620.0 1420.3,1627.5 1422.6,1633.0 1432.1,1632.4 1436.4,1635.8 1431.6,1638.4 1422.5,1637.1 1416.2,1639.6 1412.1,1642.4 1412.8,1647.0 1409.0,1651.9 1402.7,1656.0 1397.7,1661.0 1398.4,1668.8 1398.4,1685.0 1396.0,1690.5 1388.5,1700.5 1385.0,1695.0 1386.0,1673.0 1384.0,1662.0 1381.2,1652.2 1375.8,1642.0 1370.3,1629.0" fill="#8f9fd5" /><polygon points="1421.0,1633.0 1433.0,1632.0 1437.5,1635.6 1432.0,1638.6 1423.0,1638.0" fill="#b9a6d8" /><polygon points="1422.0,1634.4 1432.1,1633.3 1435.5,1635.8 1431.4,1637.5 1422.5,1636.4" fill="#a75cab" /><polygon points="1430.6,1635.6 1431.5,1634.8 1432.3,1634.2 1433.1,1634.8 1434.0,1635.6 1433.1,1636.4 1432.3,1637.0 1431.5,1636.4" fill="#8b478d" /><polygon points="1371.6,1622.0 1377.1,1641.3 1382.6,1651.6 1385.4,1661.9 1387.4,1672.9 1387.6,1665.0 1394.3,1666.0 1392.0,1657.0 1387.5,1648.5 1382.6,1642.0 1376.0,1633.0" fill="#a75cab" /><polygon points="1387.4,1688.7 1397.1,1688.7 1395.0,1692.0 1388.2,1699.0 1386.0,1694.0" fill="#a75cab" /><polygon points="1371.6,1620.6 1380.6,1615.8 1388.1,1609.6 1395.7,1617.2 1401.9,1614.4 1408.8,1617.2 1417.7,1620.6 1419.1,1627.5 1421.8,1634.4 1432.1,1633.7 1434.9,1635.8 1431.4,1637.1 1422.5,1635.8 1415.6,1638.5 1410.8,1641.9 1411.5,1646.8 1408.1,1650.9 1401.9,1655.0 1396.4,1660.5 1397.1,1668.8 1397.1,1684.6 1395.0,1688.7 1387.4,1688.7 1387.4,1672.9 1387.6,1665.0 1392.5,1660.0 1388.0,1650.0 1382.6,1642.0 1376.0,1633.0 1371.6,1626.0" fill="#8b478d" stroke="#7b1f7d" stroke-width="0.9"/></g>
</g>
<path d="M229.52 1779.5V1560.0M318.10 1779.5V1560.0M406.67 1779.5V1560.0M495.24 1779.5V1560.0M583.81 1779.5V1560.0M672.38 1779.5V1560.0M760.95 1779.5V1560.0M849.52 1779.5V1560.0M938.10 1779.5V1560.0M1026.67 1779.5V1560.0M1115.24 1779.5V1560.0M1203.81 1779.5V1560.0M1292.38 1779.5V1560.0M1380.95 1779.5V1560.0" stroke="#b0b0b0" stroke-opacity="0.78" stroke-width="2.2" stroke-dasharray="2.22 3.67" stroke-dashoffset="0.5" fill="none"/>
<path d="M200.0 1748.2H1440.0M200.0 1716.8H1440.0M200.0 1685.5H1440.0M200.0 1654.1H1440.0M200.0 1622.7H1440.0M200.0 1591.4H1440.0" stroke="#b0b0b0" stroke-opacity="0.78" stroke-width="2.2" stroke-dasharray="2.22 3.67" fill="none"/>
<rect x="200.0" y="1560.0" width="1240.0" height="219.5" fill="none" stroke="#000" stroke-width="2.2"/>
<path d="M229.52 1779.5v9.7M318.10 1779.5v9.7M406.67 1779.5v9.7M495.24 1779.5v9.7M583.81 1779.5v9.7M672.38 1779.5v9.7M760.95 1779.5v9.7M849.52 1779.5v9.7M938.10 1779.5v9.7M1026.67 1779.5v9.7M1115.24 1779.5v9.7M1203.81 1779.5v9.7M1292.38 1779.5v9.7M1380.95 1779.5v9.7M200.0 1779.5h-9.7M200.0 1748.2h-9.7M200.0 1716.8h-9.7M200.0 1685.5h-9.7M200.0 1654.1h-9.7M200.0 1622.7h-9.7M200.0 1591.4h-9.7M200.0 1560.0h-9.7" stroke="#000" stroke-width="2.2" fill="none"/>
<text x="180.5" y="1790.7" text-anchor="end">0</text>
<text x="180.5" y="1759.4" text-anchor="end">5</text>
<text x="180.5" y="1728.0" text-anchor="end">10</text>
<text x="180.5" y="1696.7" text-anchor="end">15</text>
<text x="180.5" y="1665.3" text-anchor="end">20</text>
<text x="180.5" y="1633.9" text-anchor="end">25</text>
<text x="180.5" y="1602.6" text-anchor="end">30</text>
<text x="180.5" y="1571.2" text-anchor="end">35</text>
<text transform="translate(103.1 1674.0) rotate(-90)" text-anchor="middle">níveis</text>
<rect x="1079.3" y="1574.3" width="346.70000000000005" height="50.100000000000136" rx="5.5" ry="5.5" fill="#fff" fill-opacity="0.8" stroke="#ccc" stroke-opacity="0.8" stroke-width="2.78"/>
<rect x="1090.4" y="1588.1" width="55.6" height="19.4" fill="#f1f6fb"/>
<text x="1415.6" y="1606.5" text-anchor="end">Fração de nuvens</text>
<text transform="translate(220.7 1870.5) rotate(-90)" text-anchor="middle">07/02 01h</text>
<text transform="translate(255.9 1874.6) rotate(-90)" text-anchor="middle">(Sat)</text>
<text transform="translate(309.3 1870.5) rotate(-90)" text-anchor="middle">07/02 13h</text>
<text transform="translate(344.5 1874.6) rotate(-90)" text-anchor="middle">(Sat)</text>
<text transform="translate(397.9 1870.5) rotate(-90)" text-anchor="middle">08/02 01h</text>
<text transform="translate(433.1 1874.6) rotate(-90)" text-anchor="middle">(Sun)</text>
<text transform="translate(486.4 1870.5) rotate(-90)" text-anchor="middle">08/02 13h</text>
<text transform="translate(521.6 1874.6) rotate(-90)" text-anchor="middle">(Sun)</text>
<text transform="translate(575.0 1870.5) rotate(-90)" text-anchor="middle">09/02 01h</text>
<text transform="translate(610.2 1874.6) rotate(-90)" text-anchor="middle">(Mon)</text>
<text transform="translate(663.6 1870.5) rotate(-90)" text-anchor="middle">09/02 13h</text>
<text transform="translate(698.8 1874.6) rotate(-90)" text-anchor="middle">(Mon)</text>
<text transform="translate(752.2 1870.5) rotate(-90)" text-anchor="middle">10/02 01h</text>
<text transform="translate(787.4 1874.6) rotate(-90)" text-anchor="middle">(Tue)</text>
<text transform="translate(840.7 1870.5) rotate(-90)" text-anchor="middle">10/02 13h</text>
<text transform="translate(875.9 1874.6) rotate(-90)" text-anchor="middle">(Tue)</text>
<text transform="translate(929.3 1870.5) rotate(-90)" text-anchor="middle">11/02 01h</text>
<text transform="translate(964.5 1874.6) rotate(-90)" text-anchor="middle">(Wed)</text>
<text transform="translate(1017.9 1870.5) rotate(-90)" text-anchor="middle">11/02 13h</text>
<text transform="translate(1053.1 1874.6) rotate(-90)" text-anchor="middle">(Wed)</text>
<text transform="translate(1106.4 1870.5) rotate(-90)" text-anchor="middle">12/02 01h</text>
<text transform="translate(1141.6 1874.6) rotate(-90)" text-anchor="middle">(Thu)</text>
<text transform="translate(1195.0 1870.5) rotate(-90)" text-anchor="middle">12/02 13h</text>
<text transform="translate(1230.2 1874.6) rotate(-90)" text-anchor="middle">(Thu)</text>
<text transform="translate(1283.6 1870.5) rotate(-90)" text-anchor="middle">13/02 01h</text>
<text transform="translate(1318.8 1874.6) rotate(-90)" text-anchor="middle">(Fri)</text>
<text transform="translate(1372.2 1870.5) rotate(-90)" text-anchor="middle">13/02 13h</text>
<text transform="translate(1407.4 1874.6) rotate(-90)" text-anchor="middle">(Fri)</text>
</svg>
</body></html>
